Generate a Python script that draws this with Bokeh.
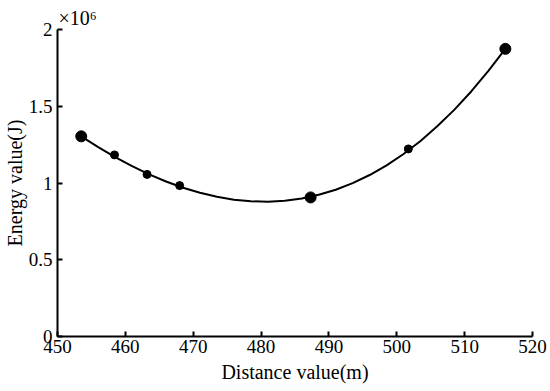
from bokeh.plotting import figure
from bokeh.models import FixedTicker, CustomJSTickFormatter
from bokeh.embed import file_html
from bokeh.resources import INLINE

# Measured points (distance in m, energy in J)
distance_large = [453.5, 487.3, 516.0]
energy_large = [1.304e6, 0.906e6, 1.874e6]
distance_small = [458.4, 463.2, 468.0, 501.7]
energy_small = [1.183e6, 1.056e6, 0.983e6, 1.222e6]

# Fitted curve
curve_distance = [453.5, 456, 458.5, 461, 463.5, 466, 468.5, 471, 473.5, 476, 478.5, 481,
                  483.5, 486, 488.5, 491, 493.5, 496, 498.5, 501, 503.5, 506, 508.5, 511,
                  513.5, 516]
curve_energy = [1.304e6, 1.234e6, 1.169e6, 1.110e6, 1.056e6, 1.010e6, 0.969e6, 0.936e6,
                0.910e6, 0.891e6, 0.881e6, 0.878e6, 0.884e6, 0.899e6, 0.923e6, 0.956e6,
                0.999e6, 1.052e6, 1.115e6, 1.189e6, 1.274e6, 1.371e6, 1.478e6, 1.598e6,
                1.730e6, 1.874e6]

x_ticks = [450, 460, 470, 480, 490, 500, 510, 520]
y_ticks = [0, 0.5e6, 1.0e6, 1.5e6, 2.0e6]

FONT = "Liberation Serif"

p = figure(frame_width=475, frame_height=307, x_range=(450, 520), y_range=(0, 2.0e6),
           output_backend="svg", toolbar_location=None,
           min_border_left=56, min_border_right=19, min_border_top=29, min_border_bottom=55,
           title="×10⁶")
p.outline_line_color = None
p.xgrid.visible = False
p.ygrid.visible = False
p.background_fill_color = "white"
p.border_fill_color = "white"

p.title.text_font = FONT
p.title.text_font_size = "20px"
p.title.text_font_style = "normal"
p.title.text_color = "black"
p.title.align = "left"
p.title.offset = 1
p.title.standoff = 2

p.line(curve_distance, curve_energy, line_color="black", line_width=2)
p.scatter(distance_large, energy_large, size=11, color="black")
p.scatter(distance_small, energy_small, size=8, color="black")

for ax in (p.xaxis[0], p.yaxis[0]):
    ax.axis_line_width = 2
    ax.axis_line_color = "black"
    ax.major_tick_line_width = 2
    ax.major_tick_line_color = "black"
    ax.major_tick_in = 5
    ax.major_tick_out = 0
    ax.minor_tick_line_color = None
    ax.major_label_text_font = FONT
    ax.major_label_text_font_size = "19px"
    ax.major_label_text_color = "black"
    ax.axis_label_text_font = FONT
    ax.axis_label_text_font_size = "20px"
    ax.axis_label_text_font_style = "normal"
    ax.axis_label_text_color = "black"

p.xaxis.ticker = FixedTicker(ticks=x_ticks)
p.yaxis.ticker = FixedTicker(ticks=y_ticks)
p.yaxis.formatter = CustomJSTickFormatter(code="return (tick/1e6).toString();")
p.xaxis.axis_label = "Distance value(m)"
p.yaxis.axis_label = "Energy value(J)"
p.xaxis.major_label_standoff = 3
p.yaxis.major_label_standoff = 5
p.xaxis.axis_label_standoff = 5
p.yaxis.axis_label_standoff = 0

open("out.html", "w").write(file_html(p, INLINE))
